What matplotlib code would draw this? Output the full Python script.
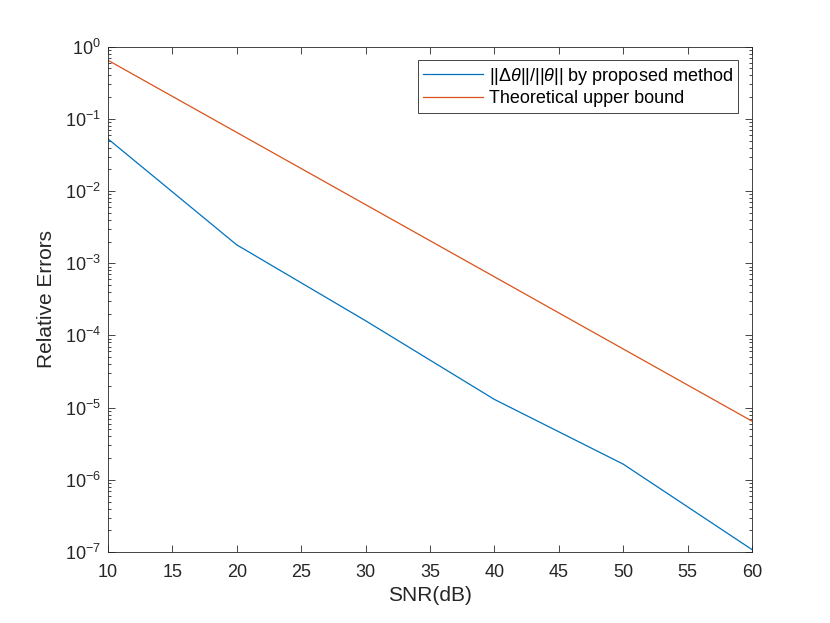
import matplotlib
matplotlib.use("Agg")
import matplotlib.pyplot as plt
from matplotlib.ticker import FixedLocator, LogLocator, NullFormatter, LogFormatterSciNotation

# data
snr_db        = [10, 20, 30, 40, 50, 60]
err_proposed  = [0.053, 0.0018, 1.6e-4, 1.3e-5, 1.65e-6, 1.08e-7]
err_bound     = [0.65, 0.065, 0.0065, 6.5e-4, 6.5e-5, 6.5e-6]
x_ticks       = [10, 15, 20, 25, 30, 35, 40, 45, 50, 55, 60]
y_ticks       = [1e-7, 1e-6, 1e-5, 1e-4, 1e-3, 1e-2, 1e-1, 1e0]

plt.rcParams["font.family"] = ["Liberation Sans", "DejaVu Sans"]
plt.rcParams["mathtext.fontset"] = "custom"
plt.rcParams["mathtext.rm"] = "Liberation Sans"
plt.rcParams["mathtext.it"] = "Liberation Sans:italic"
plt.rcParams["mathtext.bf"] = "Liberation Sans:bold"

fig = plt.figure(figsize=(8.3, 6.23), dpi=100)
ax = fig.add_axes([0.130, 0.114, 0.776, 0.811])

ax.semilogy(snr_db, err_proposed, color="#0072BD", linewidth=0.9,
            label=r"$||\Delta\theta||/||\theta||$ by proposed method")
ax.semilogy(snr_db, err_bound, color="#D95319", linewidth=0.9,
            label="Theoretical upper bound")

ax.set_xlim(10, 60)
ax.set_ylim(1e-7, 1e0)
ax.set_xticks(x_ticks)
ax.yaxis.set_major_locator(FixedLocator(y_ticks))
ax.yaxis.set_major_formatter(LogFormatterSciNotation())
ax.yaxis.set_minor_locator(LogLocator(base=10, subs=range(2, 10), numticks=100))
ax.yaxis.set_minor_formatter(NullFormatter())

ax.tick_params(which="both", direction="in", top=True, right=True,
               labelsize=13, width=0.6, color="#262626", labelcolor="#262626")
ax.tick_params(which="major", length=5)
ax.tick_params(which="minor", length=2.5)
ax.tick_params(axis="x", pad=9)
ax.tick_params(axis="y", pad=5)
for sp in ax.spines.values():
    sp.set_linewidth(0.6)
    sp.set_color("#262626")

ax.set_xlabel("SNR(dB)", fontsize=15, color="#262626", labelpad=3)
ax.set_ylabel("Relative Errors", fontsize=15, color="#262626", labelpad=6)

leg = ax.legend(loc="upper right", fontsize=13, fancybox=False, framealpha=1,
                edgecolor="#262626", borderaxespad=0.75, handlelength=3.3,
                handletextpad=0.35, borderpad=0.3, labelspacing=0.2)
leg.get_frame().set_linewidth(0.6)

fig.savefig("out.png", dpi=100)
